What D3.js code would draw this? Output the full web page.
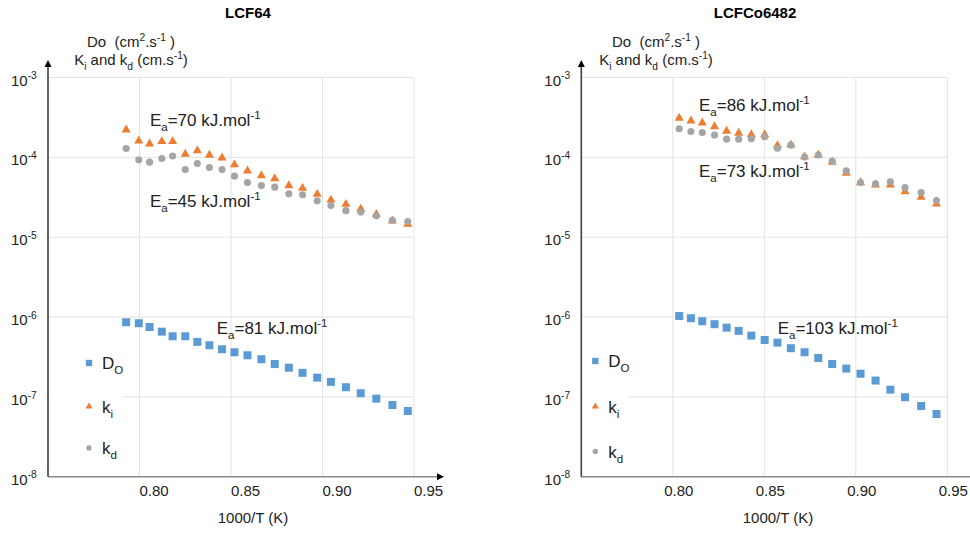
<!DOCTYPE html>
<html><head><meta charset="utf-8">
<script src="https://cdn.jsdelivr.net/npm/d3@7"></script>
<style>body{margin:0;background:#fff}svg{display:block}text{font-family:"Liberation Sans",Arial,sans-serif;fill:#000;white-space:pre}</style>
</head><body><svg id="c" width="970" height="533"></svg>
<script>
// ---------- data ----------
const xTicks = [0.80, 0.85, 0.90, 0.95];
const yTickExps = [-3, -4, -5, -6, -7, -8];

// LCF64
const lcfX  = [0.7927,0.7996,0.8055,0.8122,0.8181,0.8250,0.8316,0.8382,0.8451,0.8519,0.8590,0.8666,0.8739,0.8816,0.8891,0.8971,0.9046,0.9128,0.9209,0.9294,0.9382,0.9466];
const lcfD  = [8.6e-7,8.36e-7,7.5e-7,6.56e-7,5.74e-7,5.74e-7,4.88e-7,4.43e-7,3.95e-7,3.62e-7,3.32e-7,2.96e-7,2.58e-7,2.32e-7,2.0e-7,1.74e-7,1.54e-7,1.32e-7,1.11e-7,9.5e-8,7.9e-8,6.65e-8];
const lcfKi = [2.21e-4,1.61e-4,1.48e-4,1.58e-4,1.58e-4,1.10e-4,1.21e-4,1.07e-4,9.86e-5,8.13e-5,6.78e-5,5.92e-5,5.42e-5,4.43e-5,4.11e-5,3.46e-5,2.93e-5,2.59e-5,2.26e-5,1.94e-5,1.60e-5,1.46e-5];
const lcfKd = [1.29e-4,9.3e-5,8.7e-5,9.66e-5,1.04e-4,7.03e-5,8.36e-5,7.45e-5,7.03e-5,5.81e-5,4.83e-5,4.43e-5,4.23e-5,3.49e-5,3.39e-5,2.85e-5,2.49e-5,2.15e-5,2.06e-5,1.85e-5,1.63e-5,1.57e-5];

// LCFCo6482
const coX  = [0.8035,0.8099,0.8161,0.8228,0.8294,0.8360,0.8429,0.8502,0.8572,0.8645,0.8720,0.8795,0.8871,0.8948,0.9026,0.9108,0.9189,0.9269,0.9357,0.9441];
const coD  = [1.03e-6,9.66e-7,8.86e-7,8.13e-7,7.36e-7,6.70e-7,5.85e-7,5.16e-7,4.78e-7,4.07e-7,3.62e-7,3.07e-7,2.58e-7,2.26e-7,1.95e-7,1.60e-7,1.23e-7,9.9e-8,7.69e-8,6.1e-8];
const coKi = [3.10e-4,2.87e-4,2.71e-4,2.43e-4,2.13e-4,2.01e-4,1.93e-4,1.93e-4,1.41e-4,1.44e-4,1.02e-4,1.07e-4,8.7e-5,6.34e-5,4.83e-5,4.52e-5,4.52e-5,3.73e-5,3.17e-5,2.61e-5];
const coKd = [2.28e-4,2.11e-4,2.05e-4,1.90e-4,1.69e-4,1.69e-4,1.71e-4,1.81e-4,1.30e-4,1.42e-4,1.01e-4,1.07e-4,8.96e-5,6.78e-5,4.83e-5,4.66e-5,4.93e-5,4.18e-5,3.62e-5,2.88e-5];

// activation-energy annotations: [x, y, text value]
const lcfNotes = [[0.8057,2.47e-4,"70"],[0.8057,2.41e-5,"45"],[0.8422,6.12e-7,"81"]];
const coNotes  = [[0.8143,3.80e-4,"86"],[0.8143,5.72e-5,"73"],[0.8573,6.12e-7,"103"]];

const COL_D = "#5B9BD5", COL_KI = "#ED7D31", COL_KD = "#A5A5A5";

// ---------- drawing ----------
const svg = d3.select("#c");

function rich(sel, segs, size) {
  let cur = 0;
  segs.forEach(s => {
    const shift = s.sub ? size * 0.32 : s.sup ? -size * 0.42 : 0;
    sel.append("tspan").attr("dy", shift - cur)
      .style("font-size", (s.sub || s.sup) ? (size * 0.68) + "px" : size + "px")
      .text(s.t);
    cur = shift;
  });
}

function panel(cfg) {
  const g = svg.append("g");
  const x = d3.scaleLinear().domain([0.75, 0.95]).range([cfg.left, cfg.left + 366]);
  const y = d3.scaleLog().domain([1e-8, 1e-3]).range([476.7, 77.5]);

  // gridlines
  g.append("g").selectAll("line.h").data(yTickExps).join("line")
    .attr("x1", cfg.left).attr("x2", cfg.left + 366)
    .attr("y1", d => y(Math.pow(10, d))).attr("y2", d => y(Math.pow(10, d)))
    .attr("stroke", "#e3e3e3").attr("stroke-width", 1);
  g.append("g").selectAll("line.v").data(xTicks).join("line")
    .attr("x1", d => x(d)).attr("x2", d => x(d))
    .attr("y1", y(1e-3)).attr("y2", y(1e-8))
    .attr("stroke", "#e3e3e3").attr("stroke-width", 1);

  // legend background
  g.append("rect").attr("x", cfg.left + 1).attr("y", 335).attr("width", cfg.legW).attr("height", 130).attr("fill", "#fff");

  // axes
  g.append("line").attr("x1", cfg.left).attr("x2", cfg.left + 390).attr("y1", y(1e-8)).attr("y2", y(1e-8))
    .attr("stroke", "#8a8a8a").attr("stroke-width", 1.6);
  g.append("path").attr("d", `M${cfg.left + 396},${y(1e-8)} l-7,-3.5 l0,7 z`).attr("fill", "#000");
  g.append("line").attr("x1", cfg.left).attr("x2", cfg.left).attr("y1", y(1e-8)).attr("y2", 66)
    .attr("stroke", "#404040").attr("stroke-width", 1.6);
  g.append("path").attr("d", `M${cfg.left},60 l-3.5,7 l7,0 z`).attr("fill", "#000");

  // x tick labels
  g.append("g").selectAll("text").data(xTicks).join("text")
    .attr("x", d => x(d) + cfg.tickOff).attr("y", 496).attr("text-anchor", "middle")
    .style("font-size", "15px").style("fill", "#222").text(d => d.toFixed(2));

  // y tick labels
  yTickExps.forEach(e => {
    const t = g.append("text").attr("x", cfg.left - 37).attr("y", y(Math.pow(10, e)) + 8)
      .style("fill", "#222");
    rich(t, [{t: "10"}, {t: String(e), sup: true}], 15);
  });

  // series
  const pts = (vals) => vals.map((v, i) => [x(cfg.xs[i]), y(v)]);
  g.append("g").selectAll("path").data(pts(cfg.D)).join("path")
    .attr("transform", d => `translate(${d[0]},${d[1]})`)
    .attr("d", d3.symbol(d3.symbolSquare, 64)()).attr("fill", COL_D);
  g.append("g").selectAll("path").data(pts(cfg.Ki)).join("path")
    .attr("transform", d => `translate(${d[0]},${d[1]})`)
    .attr("d", d3.symbol(d3.symbolTriangle, 36)()).attr("fill", COL_KI);
  g.append("g").selectAll("path").data(pts(cfg.Kd)).join("path")
    .attr("transform", d => `translate(${d[0]},${d[1]})`)
    .attr("d", d3.symbol(d3.symbolCircle, 40)()).attr("fill", COL_KD);

  // legend
  const lg = [
    {sym: d3.symbolSquare, s: 40, c: COL_D, segs: [{t: "D"}, {t: "O", sub: true}]},
    {sym: d3.symbolTriangle, s: 22, c: COL_KI, segs: [{t: "k"}, {t: "i", sub: true}]},
    {sym: d3.symbolCircle, s: 22, c: COL_KD, segs: [{t: "k"}, {t: "d", sub: true}]}
  ];
  lg.forEach((it, i) => {
    const ly = cfg.legY[i];
    g.append("path").attr("transform", `translate(${cfg.left + cfg.legMx},${ly})`)
      .attr("d", d3.symbol(it.sym, it.s)()).attr("fill", it.c);
    const t = g.append("text").attr("x", cfg.left + cfg.legMx + 13).attr("y", ly + 6).style("fill", "#222");
    rich(t, it.segs, 17);
  });

  // annotations
  cfg.notes.forEach(n => {
    const t = g.append("text").attr("x", x(n[0])).attr("y", y(n[1])).style("fill", "#222");
    rich(t, [{t: "E"}, {t: "a", sub: true}, {t: "=" + n[2] + " kJ.mol"}, {t: "-1", sup: true}], 17);
  });

  // title
  g.append("text").attr("x", cfg.titleX).attr("y", 18).attr("text-anchor", "middle")
    .style("font-size", "15px").style("font-weight", "bold").text(cfg.title);

  // y title
  const t1 = g.append("text").attr("x", cfg.yTitleX).attr("y", 47).attr("text-anchor", "middle").style("fill", "#222");
  rich(t1, [{t: "Do\u00a0\u00a0(cm"}, {t: "2", sup: true}, {t: ".s"}, {t: "-1", sup: true}, {t: "\u00a0)"}], 15);
  const t2 = g.append("text").attr("x", cfg.yTitleX).attr("y", 65).attr("text-anchor", "middle").style("fill", "#222");
  rich(t2, [{t: "K"}, {t: "i", sub: true}, {t: " and k"}, {t: "d", sub: true}, {t: " (cm.s"}, {t: "-1", sup: true}, {t: ")"}], 15);

  // x title
  g.append("text").attr("x", cfg.xTitleX).attr("y", 523).attr("text-anchor", "middle")
    .style("font-size", "15px").style("fill", "#222").text("1000/T (K)");
}

panel({left: 48, xs: lcfX, D: lcfD, Ki: lcfKi, Kd: lcfKd, notes: lcfNotes, title: "LCF64", tickOff: 14.5,
  titleX: 248, yTitleX: 131, xTitleX: 253, legW: 73, legMx: 41, legY: [363, 406.5, 448]});
panel({left: 581.3, xs: coX, D: coD, Ki: coKi, Kd: coKd, notes: coNotes, title: "LCFCo6482", tickOff: 6,
  titleX: 755, yTitleX: 656, xTitleX: 778, legW: 46, legMx: 14, legY: [361, 406.5, 451.5]});
</script></body></html>
